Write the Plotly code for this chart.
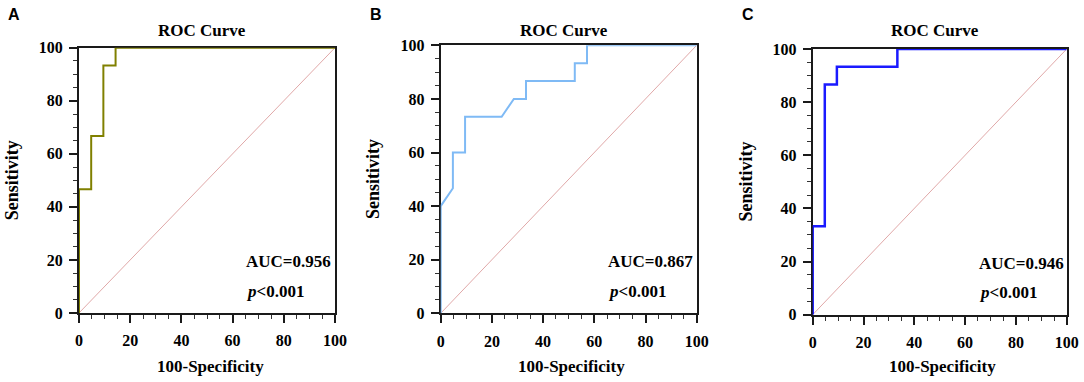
import plotly.graph_objects as go

W, H = 1084, 382

# ---- data ----
panels = ["A", "B", "C"]
fpr_a = [0, 0, 4.76, 4.76, 9.52, 9.52, 14.29, 14.29, 100]
tpr_a = [0, 46.67, 46.67, 66.67, 66.67, 93.33, 93.33, 100, 100]
fpr_b = [0, 0, 4.76, 4.76, 9.52, 9.52, 23.81, 28.57, 33.33, 33.33, 52.38, 52.38, 57.14, 57.14, 100]
tpr_b = [0, 40, 46.67, 60, 60, 73.33, 73.33, 80, 80, 86.67, 86.67, 93.33, 93.33, 100, 100]
fpr_c = [0, 0, 4.76, 4.76, 9.52, 9.52, 33.33, 33.33, 100]
tpr_c = [0, 33.33, 33.33, 86.67, 86.67, 93.33, 93.33, 100, 100]
auc_labels = ["AUC=0.956", "AUC=0.867", "AUC=0.946"]
p_labels = ["<i>p</i><0.001", "<i>p</i><0.001", "<i>p</i><0.001"]
diag = [0, 100]
tick_vals = [0, 20, 40, 60, 80, 100]

curves = [(fpr_a, tpr_a), (fpr_b, tpr_b), (fpr_c, tpr_c)]
colors = ["#808000", "#7fbaf5", "#1a1aff"]
widths = [2, 2, 2.5]

# pixel boxes of the plot areas: (left, right, top, bottom)
boxes = [(79, 335, 47.7, 313), (440.7, 696.7, 45.3, 313.3), (812.7, 1066.7, 49, 314.7)]

serif = "Liberation Serif"
fig = go.Figure()
layout = dict(width=W, height=H, margin=dict(l=0, r=0, t=0, b=0, pad=0),
              plot_bgcolor="white", paper_bgcolor="white", showlegend=False)
annotations = []

def px(x):
    return x / W

def py(y):
    return 1 - y / H

def ann(text, x, y, size, family=serif, angle=0):
    return dict(text=text, x=px(x), y=py(y), xref="paper", yref="paper", showarrow=False,
                xanchor="center", yanchor="middle", textangle=angle,
                font=dict(family=family, size=size, color="black", weight="bold"))

for i, (fx, ty) in enumerate(curves):
    sfx = "" if i == 0 else str(i + 1)
    xa, ya = "x" + sfx, "y" + sfx
    fig.add_trace(go.Scatter(x=diag, y=diag, mode="lines", xaxis=xa, yaxis=ya,
                             line=dict(color="#e0a8a8", width=1), cliponaxis=False, hoverinfo="skip"))
    fig.add_trace(go.Scatter(x=fx, y=ty, mode="lines", xaxis=xa, yaxis=ya,
                             line=dict(color=colors[i], width=widths[i]), cliponaxis=False))
    l, r, t, b = boxes[i]
    common = dict(range=[0, 100], showgrid=False, zeroline=False, showline=True,
                  linecolor="#1a1a1a", linewidth=2, mirror=True, ticks="outside",
                  ticklen=8, tickwidth=1.6, tickcolor="#1a1a1a", tickvals=tick_vals,
                  tickfont=dict(family=serif, size=16, color="black", weight="bold"),
                  minor=dict(dtick=5, ticks="outside", ticklen=4, tickwidth=1.3, tickcolor="#333333"),
                  layer="below traces", fixedrange=True, automargin=False)
    layout["xaxis" + sfx] = dict(common, domain=[px(l), px(r)], anchor=ya, ticklabelstandoff=4)
    layout["yaxis" + sfx] = dict(common, domain=[py(b), py(t)], anchor=xa, ticklabelstandoff=3)
    cx = (l + r) / 2
    annotations += [
        ann("ROC Curve", cx - 5, 30, 17),
        ann("100-Specificity", cx + 3, 366, 17),
        ann("Sensitivity", l - 67, (t + b) / 2, 18, angle=-90),
        ann(panels[i], l - 65, 15, 16, family="Liberation Sans"),
        dict(text=auc_labels[i], x=64.5, y=19.3, xref=xa, yref=ya, xanchor="left", yanchor="middle",
             showarrow=False, font=dict(family=serif, size=17, color="black", weight="bold")),
        dict(text=p_labels[i], x=64.5, y=8.2, xref=xa, yref=ya, xanchor="left", yanchor="middle",
             showarrow=False, font=dict(family=serif, size=17, color="black", weight="bold")),
    ]

layout["annotations"] = annotations
fig.update_layout(**layout)
fig.write_html("out.html", config={"displayModeBar": False},
               post_script="document.body.style.margin='0';document.body.style.overflow='hidden';")
